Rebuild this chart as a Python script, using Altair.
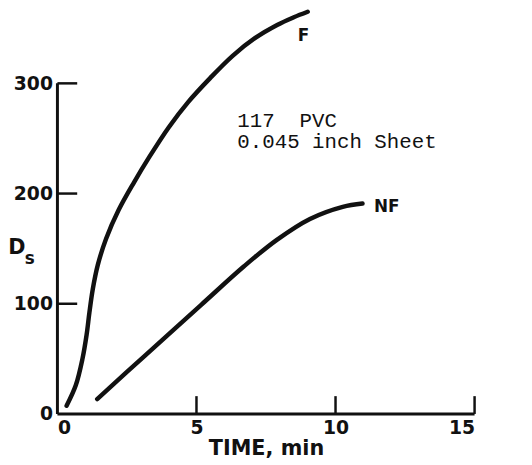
import altair as alt
import pandas as pd

# Curve F (flaming)
f_time = [0.33, 0.66, 0.90, 1.05, 1.15, 1.27, 1.45, 1.75, 2.20, 2.75, 3.30, 4.00, 4.70, 5.50, 6.30, 7.10, 7.90, 8.50, 9.00]
f_ds = [7.5, 26, 50, 72, 92, 113, 135, 159, 185, 210, 233, 260, 283, 305, 325, 341, 353, 360, 365]

# Curve NF (non-flaming)
nf_time = [1.43, 3.15, 5.17, 6.71, 7.89, 9.08, 10.26, 10.97]
nf_ds = [13.5, 53, 99, 134, 158, 177, 188, 191]

x_ticks = [0, 5, 10, 15]
y_ticks = [0, 100, 200, 300]

curve_labels = ["F", "NF"]
curve_label_x = [8.64, 11.38]
curve_label_y = [343, 187.5]

ann_lines = ["117\u00a0\u00a0PVC", "0.045 inch Sheet"]
ann_x = [6.47, 6.47]
ann_y = [260, 241]

INK = "#111111"
W, H = 422, 408

xs = alt.Scale(domain=[0, 15], nice=False, zero=False)
ys = alt.Scale(domain=[0, 366], nice=False, zero=False)

curves = pd.DataFrame(
    {"t": f_time + nf_time, "ds": f_ds + nf_ds,
     "s": ["F"] * len(f_time) + ["NF"] * len(nf_time)}
)

base_x = alt.X("t:Q", scale=xs,
               axis=alt.Axis(values=x_ticks, format="d", title="TIME, min",
                             domain=False, ticks=False, grid=False,
                             labelFont="DejaVu Sans", labelFontWeight="bold",
                             labelFontSize=19, labelColor=INK, labelPadding=5,
                             titleFont="DejaVu Sans", titleFontWeight="bold",
                             titleFontSize=21, titleColor=INK, titlePadding=0))
base_y = alt.Y("ds:Q", scale=ys,
               axis=alt.Axis(values=y_ticks, format="d", title=None,
                             domain=False, ticks=False, grid=False,
                             labelFont="DejaVu Sans", labelFontWeight="bold",
                             labelFontSize=19, labelColor=INK, labelPadding=5))

lines = alt.Chart(curves).mark_line(
    color=INK, strokeWidth=4.5, interpolate="catmull-rom", strokeCap="round"
).encode(x=base_x, y=base_y, detail="s:N")

# axis lines
yaxis_df = pd.DataFrame({"x": [0], "y": [0], "y2": [y_ticks[-1]]})
yaxis = alt.Chart(yaxis_df).mark_rule(color=INK, strokeWidth=3).encode(
    x=alt.X("x:Q", scale=xs), y=alt.Y("y:Q", scale=ys), y2="y2:Q")
xaxis_df = pd.DataFrame({"x": [0], "x2": [x_ticks[-1]], "y": [0]})
xaxis = alt.Chart(xaxis_df).mark_rule(color=INK, strokeWidth=3).encode(
    x=alt.X("x:Q", scale=xs), x2="x2:Q", y=alt.Y("y:Q", scale=ys))

# inward ticks
xt_df = pd.DataFrame({"x": x_ticks[1:]})
xt = alt.Chart(xt_df).mark_rule(color=INK, strokeWidth=2.5).encode(
    x=alt.X("x:Q", scale=xs), y=alt.datum(0, scale=ys), y2=alt.value(H - 18))
yt_df = pd.DataFrame({"y": y_ticks[1:]})
yt = alt.Chart(yt_df).mark_rule(color=INK, strokeWidth=2.5).encode(
    y=alt.Y("y:Q", scale=ys), x=alt.datum(0, scale=xs), x2=alt.value(20))

# curve labels
lab_df = pd.DataFrame({"x": curve_label_x, "y": curve_label_y, "t": curve_labels})
labs = alt.Chart(lab_df).mark_text(
    font="DejaVu Sans", fontWeight="bold", fontSize=17, color=INK,
    align="left", baseline="middle"
).encode(x=alt.X("x:Q", scale=xs), y=alt.Y("y:Q", scale=ys), text="t:N")

# annotation
ann_df = pd.DataFrame({"x": ann_x, "y": ann_y, "t": ann_lines})
ann = alt.Chart(ann_df).mark_text(
    font="Liberation Mono", fontSize=21, color=INK, align="left",
    baseline="alphabetic"
).encode(x=alt.X("x:Q", scale=xs), y=alt.Y("y:Q", scale=ys), text="t:N")

# y-axis title D_s
dtitle = alt.Chart(pd.DataFrame({"t": ["D"]})).mark_text(
    font="DejaVu Sans", fontWeight="bold", fontSize=21, color=INK,
    align="center", baseline="middle"
).encode(x=alt.value(-41), y=alt.value(240), text="t:N")
stitle = alt.Chart(pd.DataFrame({"t": ["s"]})).mark_text(
    font="DejaVu Sans", fontWeight="bold", fontSize=17, color=INK,
    align="center", baseline="middle"
).encode(x=alt.value(-28), y=alt.value(251), text="t:N")

chart = alt.layer(lines, yaxis, xaxis, xt, yt, labs, ann, dtitle, stitle).properties(
    width=W, height=H,
    autosize=alt.AutoSizeParams(type="none"),
    padding={"left": 50, "top": 0, "right": 50, "bottom": 50},
    background="white",
).configure_view(stroke=None)

chart.save("out.html", embed_options={"renderer": "svg", "actions": False})
